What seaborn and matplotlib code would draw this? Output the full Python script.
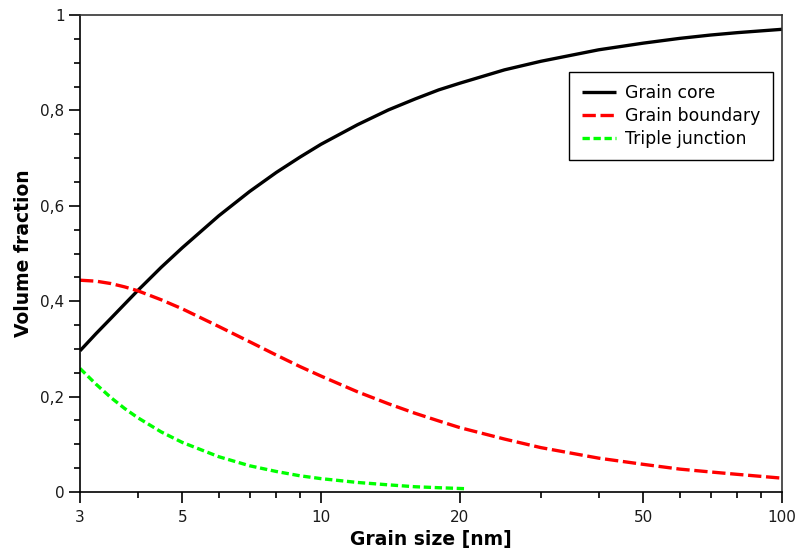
import matplotlib
matplotlib.use("Agg")
import matplotlib.pyplot as plt
import matplotlib.ticker as mticker
import seaborn as sns
import pandas as pd

# Grain size [nm]
grain_size = [3, 3.25, 3.5, 3.75, 4, 4.5, 5, 6, 7, 8, 9, 10, 12, 14, 16, 18, 20,
              25, 30, 40, 50, 60, 70, 80, 100]
grain_core = [0.296, 0.332, 0.364, 0.394, 0.422, 0.471, 0.512, 0.579, 0.630, 0.670,
              0.702, 0.729, 0.770, 0.801, 0.824, 0.843, 0.857,
              0.885, 0.903, 0.927, 0.941, 0.951, 0.958, 0.963, 0.970]
grain_boundary = [0.444, 0.442, 0.437, 0.430, 0.422, 0.403, 0.384, 0.347, 0.315, 0.287,
                  0.263, 0.243, 0.210, 0.185, 0.165, 0.149, 0.135,
                  0.111, 0.093, 0.071, 0.058, 0.048, 0.042, 0.037, 0.029]
tj_size = [3, 3.25, 3.5, 3.75, 4, 4.5, 5, 6, 7, 8, 9, 10, 12, 14, 16, 18, 20.5]
triple_junction = [0.259, 0.226, 0.198, 0.175, 0.156, 0.126, 0.104, 0.074, 0.055, 0.043,
                   0.034, 0.028, 0.020, 0.015, 0.011, 0.009, 0.007]

x_ticks = [3, 5, 10, 20, 50, 100]
x_minor = [4, 6, 7, 8, 9, 30, 40, 60, 70, 80, 90]
y_ticks = [0, 0.2, 0.4, 0.6, 0.8, 1.0]

sns.set_style("ticks")
plt.rcParams['font.family'] = ['DejaVu Sans']
plt.rcParams['text.color'] = 'black'
plt.rcParams['axes.labelcolor'] = 'black'
plt.rcParams['xtick.color'] = 'black'
plt.rcParams['ytick.color'] = 'black'

fig = plt.figure(figsize=(7.95, 5.5), dpi=100)
ax = fig.add_axes([80/795, 1-492/550, 702/795, 477/550])

lw = 2.4
df_core = pd.DataFrame({"x": grain_size, "y": grain_core})
df_gb = pd.DataFrame({"x": grain_size, "y": grain_boundary})
df_tj = pd.DataFrame({"x": tj_size, "y": triple_junction})

sns.lineplot(data=df_core, x="x", y="y", ax=ax, color="black", lw=lw, label="Grain core")
sns.lineplot(data=df_gb, x="x", y="y", ax=ax, color="#ff0000", lw=lw, label="Grain boundary")
sns.lineplot(data=df_tj, x="x", y="y", ax=ax, color="#00ff00", lw=lw, label="Triple junction")
lines = ax.get_lines()
lines[1].set_dashes((4.0, 1.4))
lines[2].set_dashes((2.2, 1.1))
for ln in lines:
    ln.set_solid_capstyle("butt")
    ln.set_dash_capstyle("butt")

ax.set_xscale("log")
ax.set_xlim(3, 100)
ax.set_ylim(0, 1)
ax.xaxis.set_major_locator(mticker.FixedLocator(x_ticks))
ax.xaxis.set_minor_locator(mticker.FixedLocator(x_minor))
ax.xaxis.set_major_formatter(mticker.FixedFormatter([str(t) for t in x_ticks]))
ax.xaxis.set_minor_formatter(mticker.NullFormatter())
ax.yaxis.set_major_locator(mticker.FixedLocator(y_ticks))
ax.yaxis.set_minor_locator(mticker.MultipleLocator(0.05))
ax.yaxis.set_major_formatter(mticker.FuncFormatter(
    lambda v, p: "0" if v == 0 else ("1" if v == 1 else f"{v:.1f}".replace(".", ","))))

ax.tick_params(axis="both", which="major", length=7.7, width=1.2, color="black",
               labelsize=11, labelcolor="#1a1a1a", direction="out")
ax.tick_params(axis="both", which="minor", length=4.5, width=1.2, color="black", direction="out")
ax.tick_params(axis="x", which="major", pad=5)

for s in ax.spines.values():
    s.set_color("black")
    s.set_linewidth(1.2)
ax.spines["top"].set_color("#333333")
ax.spines["right"].set_color("#333333")

ax.set_xlabel("Grain size [nm]", fontsize=13.5, fontweight="bold", labelpad=4, color="black")
ax.set_ylabel("Volume fraction", fontsize=13.5, fontweight="bold", labelpad=5, color="black")

leg = ax.legend(loc="upper right", bbox_to_anchor=(0.987, 0.8805), borderaxespad=0,
                fontsize=12.4, frameon=True, fancybox=False, framealpha=1, edgecolor="black",
                handlelength=2.0, handletextpad=0.55, borderpad=0.7, labelspacing=0.3)
leg.get_frame().set_linewidth(1.0)
for t in leg.get_texts():
    t.set_color("black")

fig.savefig("out.png", dpi=100)
